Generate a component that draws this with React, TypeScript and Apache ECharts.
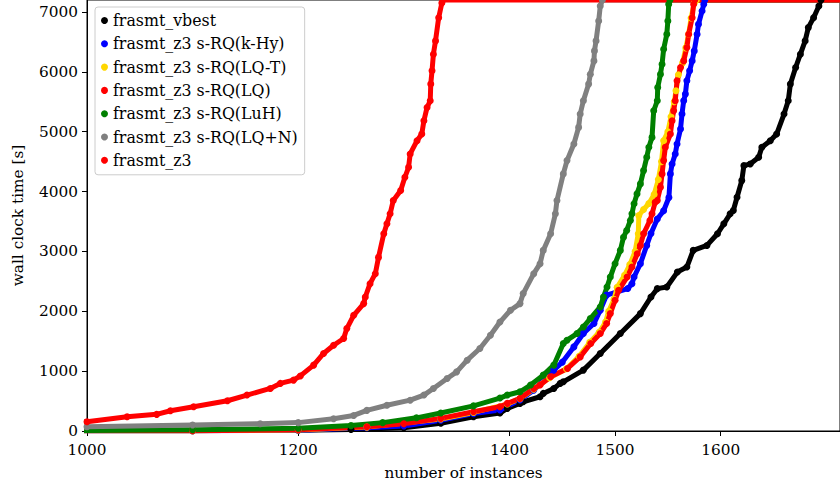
import { useEffect, useRef } from 'react';
import * as echarts from 'echarts';

const FONT = '"DejaVu Serif", serif';
const FS = 15.3;
const LEGEND_FS = 15.8;

const seriesNames = [
  'frasmt_vbest',
  'frasmt_z3 s-RQ(k-Hy)',
  'frasmt_z3 s-RQ(LQ-T)',
  'frasmt_z3 s-RQ(LQ)',
  'frasmt_z3 s-RQ(LuH)',
  'frasmt_z3 s-RQ(LQ+N)',
  'frasmt_z3',
];
const seriesColors = ['#000000', '#0000ff', '#ffd700', '#ff0000', '#008000', '#808080', '#ff0000'];

const xTicks = [1000, 1200, 1400, 1500, 1600];
const yTicks = [0, 1000, 2000, 3000, 4000, 5000, 6000, 7000];

const vbest = [
  [990, 3], [1100, 6], [1200, 14], [1250, 25], [1300, 55], [1335, 128], [1366, 238], [1391, 300],
  [1398, 378], [1410, 461], [1413, 488], [1429, 572], [1432, 628], [1442, 711], [1448, 795], [1451, 822],
  [1470, 1017], [1486, 1295], [1505, 1628], [1524, 1961], [1534, 2238], [1540, 2378], [1549, 2405],
  [1559, 2655], [1568, 2739], [1574, 3017], [1587, 3100], [1597, 3295], [1603, 3461], [1609, 3628],
  [1612, 3683], [1615.5, 3905], [1620, 4183], [1622, 4433], [1628, 4461], [1636, 4572], [1639, 4739],
  [1647, 4850], [1653, 4961], [1660, 5295], [1664, 5517], [1666, 5795], [1671, 6072], [1675.5, 6295],
  [1680, 6517], [1683, 6739], [1688, 6905], [1693, 7100], [1695, 7200], [1720, 7200],
];

const kHy = [
  [990, 2], [1100, 5], [1200, 14], [1265, 55], [1300, 85], [1335, 180], [1366, 290], [1391, 350],
  [1410, 520], [1423, 683], [1442, 1017], [1450, 1150], [1461, 1405], [1470, 1628], [1480, 1795],
  [1486, 2017], [1492, 2270], [1512, 2380], [1516, 2461], [1518, 2572], [1524, 2795], [1530, 3100],
  [1534, 3300], [1540, 3540], [1546, 3680], [1551, 3900], [1552.4, 4295], [1554, 4461], [1557, 4628],
  [1558.7, 4795], [1562, 5045], [1563.4, 5295], [1565, 5517], [1566.6, 5628], [1568, 5850],
  [1570.6, 6017], [1573, 6183], [1575, 6350], [1577.7, 6628], [1579, 6795], [1582.4, 7017],
  [1584, 7128], [1585, 7200], [1720, 7200],
];

const lqT = [
  [990, 2], [1100, 6], [1200, 18], [1265, 65], [1335, 200], [1366, 310], [1398, 450], [1410, 540],
  [1423, 700], [1438, 890], [1454, 1040], [1466, 1250], [1476, 1480], [1485, 1650], [1491, 1820],
  [1494, 2000], [1499, 2200], [1502, 2400], [1509, 2600], [1514, 2780], [1519, 3000], [1522, 3295],
  [1522.5, 3600], [1527, 3700], [1532, 3800], [1537, 3950], [1541, 4200], [1544, 4500], [1546, 4850],
  [1550, 5000], [1553, 5250], [1556, 5500], [1557.7, 5683], [1560, 5950], [1564, 6150], [1567, 6400],
  [1569.7, 6628], [1572, 6900], [1575, 7150], [1577, 7200], [1720, 7200],
];

const lq = [
  [990, 2], [1100, 6], [1200, 20], [1265, 72], [1300, 120], [1335, 211], [1366, 322], [1391, 405],
  [1398, 461], [1410, 545], [1423, 711], [1429, 767], [1439, 905], [1455, 1045], [1467, 1238],
  [1477, 1461], [1486, 1628], [1492, 1795], [1495.5, 1961], [1500, 2183], [1503.4, 2350],
  [1511.4, 2572], [1516, 2739], [1521, 2961], [1524, 3100], [1527, 3295], [1533, 3517], [1535, 3628],
  [1538, 3822], [1540, 3850], [1543, 4072], [1544.5, 4295], [1546, 4517], [1547.6, 4739],
  [1552.4, 4961], [1554, 5183], [1555.5, 5350], [1557, 5517], [1558.7, 5850], [1562, 6072],
  [1565, 6183], [1568, 6405], [1569.7, 6628], [1573, 6905], [1574.4, 7128], [1575.5, 7200], [1720, 7200],
];

const luH = [
  [990, 8], [1100, 20], [1200, 45], [1250, 90], [1280, 140], [1312, 220], [1335, 300], [1366, 420],
  [1391, 550], [1398, 600], [1410, 655], [1420, 767], [1432, 933], [1442, 1100], [1451, 1461],
  [1454.5, 1517], [1464, 1628], [1470, 1738], [1476.6, 1878], [1486, 2072], [1489, 2238],
  [1492.4, 2405], [1495.5, 2572], [1500, 2795], [1505, 3017], [1508, 3238], [1511, 3350],
  [1514.5, 3517], [1516, 3628], [1518, 3795], [1520.8, 3961], [1524, 4128], [1527, 4350], [1530, 4572],
  [1532, 4739], [1535, 4905], [1536.6, 5350], [1540, 5517], [1540.4, 5739], [1543, 5961],
  [1544.5, 6128], [1546, 6378], [1549, 6628], [1550, 6850], [1550.8, 7128], [1552, 7200], [1720, 7200],
];

const lqN = [
  [990, 65], [1000, 70], [1100, 100], [1164, 122], [1200, 140], [1233.5, 205], [1252.5, 260],
  [1265, 345], [1284, 430], [1306, 515], [1319, 600], [1328, 711], [1341, 878], [1350, 988],
  [1360, 1183], [1372, 1378], [1382, 1600], [1391, 1820], [1401, 2017], [1410, 2128], [1413, 2295],
  [1423, 2628], [1429, 2795], [1432, 3017], [1439, 3295], [1443.5, 3628], [1445, 3850], [1451, 4295],
  [1454.5, 4517], [1461, 4795], [1465.5, 5072], [1467, 5295], [1470, 5517], [1475, 5795],
  [1476.6, 5961], [1480, 6183], [1480.5, 6350], [1482, 6517], [1484.5, 6850], [1486, 7100],
  [1488, 7200], [1720, 7200],
];

const z3 = [
  [990, 150], [1000, 155], [1038, 238], [1066, 278], [1079, 338], [1101, 405], [1133, 505],
  [1151.5, 600], [1173.6, 711], [1183, 795], [1195.6, 850], [1202, 920], [1214.6, 1100], [1224, 1295],
  [1233.5, 1433], [1243, 1545], [1246, 1711], [1252.5, 1933], [1262, 2128], [1263.5, 2238],
  [1268, 2461], [1273, 2628], [1276, 2900], [1281, 3295], [1284, 3461], [1287, 3628], [1290, 3850],
  [1297, 4017], [1301, 4239], [1304.5, 4405], [1306, 4628], [1312.5, 4850], [1317, 4961], [1319, 5183],
  [1322, 5405], [1325, 5517], [1325.5, 5795], [1326.7, 6017], [1328, 6295], [1330, 6517], [1333, 6905],
  [1336, 7150], [1337, 7200], [1720, 7200],
];

const seriesData = [vbest, kHy, lqT, lq, luH, lqN, z3];

export default function App() {
  const ref = useRef<HTMLDivElement>(null);
  useEffect(() => {
    if (!ref.current) return;
    const chart = echarts.init(ref.current, null, { renderer: 'svg' });
    const axisText = { fontFamily: FONT, fontSize: FS, color: '#000' };
    const plain = (v: number) => String(v);
    chart.setOption({
      animation: false,
      backgroundColor: '#ffffff',
      grid: {
        left: 87, right: 0, top: 0, bottom: 59,
        show: true, borderColor: '#000', borderWidth: 1, backgroundColor: 'transparent',
      },
      legend: {
        orient: 'vertical',
        left: 95,
        top: 7,
        padding: [5, 7, 6, 6],
        itemGap: 6.3,
        itemWidth: 7,
        itemHeight: 7,
        itemTextGap: 6,
        icon: 'circle',
        data: seriesNames,
        textStyle: { fontFamily: FONT, fontSize: LEGEND_FS, color: '#000', lineHeight: 17 },
        backgroundColor: 'rgba(255,255,255,0.8)',
        borderColor: '#cccccc',
        borderWidth: 1,
        borderRadius: 3,
      },
      xAxis: {
        type: 'value',
        min: 1000,
        max: 1713,
        name: 'number of instances',
        nameLocation: 'middle',
        nameGap: 34,
        nameTextStyle: axisText,
        axisLine: { show: true, lineStyle: { color: '#000', width: 1 } },
        axisTick: { show: true, length: 5, customValues: xTicks, lineStyle: { color: '#000' } },
        axisLabel: { ...axisText, margin: 11, customValues: xTicks, formatter: plain },
        splitLine: { show: false },
      },
      yAxis: {
        type: 'value',
        min: 0,
        max: 7200,
        name: 'wall clock time [s]',
        nameLocation: 'middle',
        nameGap: 62,
        nameTextStyle: axisText,
        axisLine: { show: true, lineStyle: { color: '#000', width: 1 } },
        axisTick: { show: true, length: 5, customValues: yTicks, lineStyle: { color: '#000' } },
        axisLabel: { ...axisText, margin: 9, customValues: yTicks, formatter: plain },
        splitLine: { show: false },
      },
      series: seriesNames.map((name, i) => ({
        name,
        type: 'line',
        data: seriesData[i],
        clip: true,
        symbol: 'circle',
        symbolSize: 7,
        showAllSymbol: true,
        color: seriesColors[i],
        itemStyle: { color: seriesColors[i] },
        lineStyle: { color: seriesColors[i], width: 5, cap: 'round', join: 'round' },
        emphasis: { disabled: true },
      })),
    });
    return () => chart.dispose();
  }, []);
  return (
    <div
      ref={ref}
      style={{ position: 'fixed', left: 0, top: 0, width: 840, height: 490, background: '#fff' }}
    />
  );
}
